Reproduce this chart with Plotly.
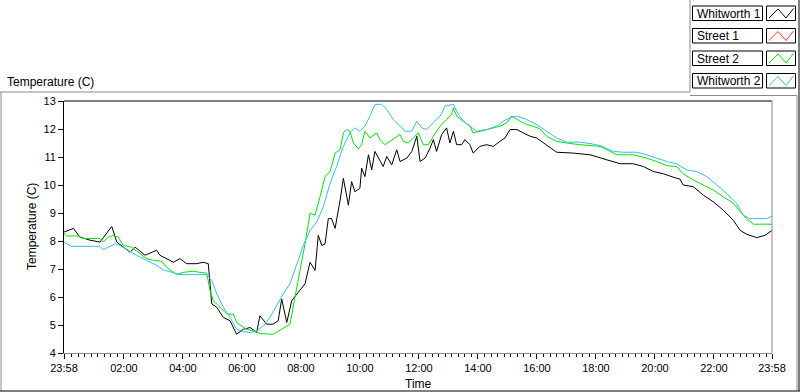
import pandas as pd
import plotly.graph_objects as go

# ---------------- data (hours elapsed since 23:58, temperature in C) ----------------
series_names = ["Whitworth 1", "Street 1", "Street 2", "Whitworth 2"]
series_colors = ["#000000", "#ff3030", "#00e800", "#3cb8ff"]

w1_hours = [0, 0.32, 0.54, 0.88, 1.22, 1.45, 1.62, 1.79, 2.01, 2.24, 2.41, 2.75, 3.14, 3.25, 3.71, 3.93,
            4.16, 4.5, 4.72, 4.89, 5.01, 5.18, 5.4, 5.63, 5.85, 6.08, 6.31, 6.53, 6.64, 6.87, 7.09, 7.26,
            7.38, 7.55, 7.72, 7.89, 8.0, 8.17, 8.34, 8.51, 8.62, 8.74, 8.85, 8.96, 9.07, 9.19, 9.36, 9.47,
            9.64, 9.75, 9.86, 10.03, 10.09, 10.2, 10.32, 10.43, 10.54, 10.71, 10.82, 10.94, 11.11, 11.28,
            11.39, 11.62, 11.79, 11.96, 12.07, 12.24, 12.41, 12.52, 12.63, 12.8, 12.97, 13.08, 13.2, 13.31,
            13.48, 13.59, 13.76, 13.87, 14.1, 14.33, 14.55, 14.78, 14.95, 15.12, 15.35, 15.57, 15.8, 16.02,
            16.25, 16.47, 16.7, 17.26, 17.83, 18.4, 18.85, 19.3, 19.64, 19.98, 20.32, 20.65, 20.88, 20.99,
            21.33, 21.67, 22.01, 22.35, 22.69, 22.92, 23.14, 23.48, 23.76, 24.0]
w1_temp = [8.32, 8.45, 8.14, 8.03, 7.96, 8.27, 8.52, 7.96, 7.78, 7.6, 7.78, 7.49, 7.67, 7.49, 7.24, 7.37,
           7.19, 7.19, 7.24, 7.19, 5.75, 5.63, 5.27, 5.15, 4.67, 4.85, 4.91, 4.73, 5.33, 5.03, 5.03, 5.15,
           5.93, 5.09, 5.87, 6.11, 6.23, 6.47, 7.24, 6.95, 8.2, 7.84, 7.9, 8.8, 8.8, 8.45, 9.46, 10.24,
           9.28, 10.12, 9.76, 9.88, 10.6, 10.3, 11.08, 10.54, 11.2, 10.84, 10.66, 11.02, 10.72, 11.26,
           10.84, 10.96, 11.2, 11.74, 10.84, 10.96, 11.32, 11.62, 11.2, 11.8, 12.04, 11.5, 11.92, 11.44,
           11.44, 11.62, 11.44, 11.14, 11.38, 11.44, 11.38, 11.56, 11.68, 11.98, 11.98, 11.86, 11.74, 11.68,
           11.5, 11.32, 11.17, 11.14, 11.08, 10.9, 10.76, 10.76, 10.66, 10.48, 10.4, 10.28, 10.21, 10.0,
           9.94, 9.64, 9.4, 9.1, 8.74, 8.38, 8.24, 8.12, 8.2, 8.38]

s1_hours = []   # Street 1: no visible data
s1_temp = []

s2_hours = [0, 0.09, 0.48, 0.65, 1.22, 1.33, 1.5, 1.67, 1.84, 2.01, 2.29, 2.58, 2.8, 3.03, 3.31, 3.48,
            3.82, 4.04, 4.38, 4.61, 4.84, 4.95, 5.06, 5.29, 5.52, 5.74, 5.85, 6.02, 6.19, 6.42, 6.64, 7.09,
            7.38, 7.66, 7.83, 8.0, 8.17, 8.34, 8.51, 8.68, 8.85, 9.02, 9.19, 9.36, 9.47, 9.58, 9.69, 9.81,
            9.98, 10.09, 10.2, 10.37, 10.6, 10.71, 10.88, 11.05, 11.28, 11.39, 11.5, 11.67, 11.9, 12.01,
            12.18, 12.35, 12.52, 12.75, 12.97, 13.14, 13.2, 13.31, 13.54, 13.76, 13.87, 14.1, 14.33, 14.55,
            14.78, 15.01, 15.18, 15.46, 15.68, 15.91, 16.14, 16.36, 16.7, 17.04, 17.49, 18.17, 18.51, 18.74,
            19.3, 19.75, 20.09, 20.43, 20.77, 20.99, 21.33, 21.67, 22.01, 22.35, 22.69, 22.97, 23.14, 23.37,
            24.0]
s2_temp = [8.27, 8.18, 8.18, 8.09, 8.09, 7.96, 8.14, 8.2, 8.14, 7.84, 7.78, 7.55, 7.37, 7.31, 7.28, 7.06,
           6.8, 6.88, 6.92, 6.88, 6.85, 6.23, 5.87, 5.63, 5.39, 5.39, 5.09, 4.97, 4.85, 4.79, 4.69, 4.67,
           4.85, 5.03, 5.99, 6.9, 7.9, 8.99, 8.92, 9.58, 10.3, 10.48, 11.14, 11.26, 11.86, 11.98, 11.92, 11.5,
           11.29, 11.44, 11.92, 11.68, 11.86, 11.62, 11.44, 11.56, 11.74, 11.8, 11.56, 11.5, 11.74, 11.86,
           11.44, 11.44, 11.74, 12.1, 12.34, 12.52, 12.76, 12.46, 12.28, 12.1, 11.86, 11.92, 11.98, 12.04,
           12.1, 12.22, 12.46, 12.28, 12.16, 12.1, 12.0, 11.74, 11.56, 11.5, 11.44, 11.38, 11.2, 11.08,
           11.08, 10.96, 10.84, 10.69, 10.66, 10.4, 10.18, 10.0, 9.82, 9.58, 9.35, 8.99, 8.8, 8.6,
           8.6]

w2_hours = [0, 0.26, 1.22, 1.33, 1.5, 1.73, 1.9, 2.13, 2.46, 2.8, 3.14, 3.37, 3.71, 3.93, 4.84, 5.01,
            5.18, 5.4, 5.63, 5.85, 6.08, 6.31, 6.53, 6.76, 6.98, 7.21, 7.43, 7.66, 7.89, 8.11, 8.34, 8.57,
            8.79, 9.02, 9.24, 9.47, 9.69, 9.86, 10.03, 10.2, 10.37, 10.54, 10.77, 10.94, 11.16, 11.39, 11.56,
            11.79, 11.96, 12.13, 12.29, 12.52, 12.75, 12.92, 13.2, 13.37, 13.54, 13.76, 13.99, 14.33, 14.67,
            14.89, 15.12, 15.35, 15.68, 16.02, 16.36, 16.7, 17.04, 17.49, 17.83, 18.17, 18.62, 18.96, 19.41,
            19.75, 20.09, 20.43, 20.77, 21.11, 21.45, 21.79, 22.13, 22.46, 22.8, 23.03, 23.25, 23.82, 24.0]
w2_temp = [7.96, 7.81, 7.81, 7.69, 7.78, 7.9, 7.84, 7.69, 7.49, 7.31, 7.13, 6.97, 6.88, 6.8, 6.8, 6.59,
           6.11, 5.63, 5.27, 4.85, 4.76, 4.73, 4.79, 4.97, 5.27, 5.69, 6.11, 6.47, 7.15, 7.84, 8.38, 8.68,
           9.22, 10.06, 10.66, 11.38, 11.86, 12.04, 11.92, 12.1, 12.46, 12.88, 12.88, 12.7, 12.34, 12.1, 11.92,
           11.92, 12.28, 12.04, 11.98, 12.22, 12.46, 12.82, 12.88, 12.52, 12.28, 12.1, 11.92, 11.98, 12.1,
           12.28, 12.4, 12.46, 12.34, 12.16, 11.92, 11.68, 11.53, 11.53, 11.48, 11.41, 11.2, 11.17, 11.17,
           11.08, 10.96, 10.84, 10.76, 10.54, 10.48, 10.3, 10.0, 9.7, 9.35, 8.92, 8.8, 8.8, 8.89]

x_tick_labels = ["23:58", "02:00", "04:00", "06:00", "08:00", "10:00", "12:00",
                 "14:00", "16:00", "18:00", "20:00", "22:00", "23:58"]
y_ticks = [4, 5, 6, 7, 8, 9, 10, 11, 12, 13]

assert len(w1_hours) == len(w1_temp)
assert len(s2_hours) == len(s2_temp)
assert len(w2_hours) == len(w2_temp)

# ---------------- figure ----------------
start = pd.Timestamp("2024-01-01 23:58")
end = start + pd.Timedelta(hours=24)
day2 = pd.Timestamp("2024-01-02 00:00")


def to_time(hours):
    return [start + pd.Timedelta(hours=h) for h in hours]


tickvals = [start] + [day2 + pd.Timedelta(hours=2 * k) for k in range(1, 12)] + [end]

fig = go.Figure()
all_series = [(w1_hours, w1_temp), (s1_hours, s1_temp), (s2_hours, s2_temp), (w2_hours, w2_temp)]
for (hrs, vals), name, col in zip(all_series, series_names, series_colors):
    fig.add_trace(go.Scatter(x=to_time(hrs), y=vals, mode="lines", name=name,
                             line=dict(color=col, width=1), showlegend=False))

W, H = 800, 392
L, R, T, B = 64, 28, 101, 39
PW, PH = W - L - R, H - T - B


def px(x):
    return (x - L) / PW


def py(y):
    return (H - B - y) / PH


FONT = "Liberation Sans, Arial, sans-serif"
shapes = []
annotations = []


def line(x0, y0, x1, y1, color, width=1):
    shapes.append(dict(type="line", xref="paper", yref="paper", x0=px(x0), y0=py(y0),
                       x1=px(x1), y1=py(y1), line=dict(color=color, width=width)))


# plot frame: top/left black, right/bottom grey
line(L, T, W - R, T, "#000000")
line(W - R, T, W - R, H - B, "#8a8a8a")

# outer control frame
line(0, 92, 690, 92, "#8a8a8a")
line(690, 0, 690, 92, "#8a8a8a")
line(690, 95.5, 797, 95.5, "#8a8a8a")
line(797, 95.5, 797, 390, "#8a8a8a")
line(1, 92, 1, 391, "#8a8a8a")
line(0, 391, 800, 391, "#000000")
line(799, 0, 799, 391, "#000000")

# custom legend (text box + icon box)
row_tops = [6, 28.5, 51, 73.5]
row_h = 14.5
for top, name, col in zip(row_tops, series_names, series_colors):
    shapes.append(dict(type="rect", xref="paper", yref="paper", x0=px(692.5), x1=px(762.5),
                       y0=py(top + row_h), y1=py(top), line=dict(color="#000000", width=1),
                       fillcolor="white"))
    shapes.append(dict(type="rect", xref="paper", yref="paper", x0=px(766.5), x1=px(795.5),
                       y0=py(top + row_h), y1=py(top), line=dict(color="#000000", width=1),
                       fillcolor="white"))
    pts = [(769, top + 12), (778, top + 3), (786, top + 12), (793.5, top + 2.5)]
    path = "M " + " L ".join(f"{px(a):.5f},{py(b):.5f}" for a, b in pts)
    shapes.append(dict(type="path", xref="paper", yref="paper", path=path,
                       line=dict(color=col, width=1)))
    annotations.append(dict(xref="paper", yref="paper", x=px(695), y=py(top + row_h / 2 + 0.5),
                            xanchor="left", yanchor="middle", text=name, showarrow=False,
                            font=dict(family=FONT, size=12, color="#000000")))

# titles
annotations.append(dict(xref="paper", yref="paper", x=px(5), y=py(82), xanchor="left",
                        yanchor="middle", text="Temperature (C)", showarrow=False,
                        font=dict(family=FONT, size=12, color="#000000")))
annotations.append(dict(xref="paper", yref="paper", x=px(32), y=py((T + H - B) / 2),
                        xanchor="center", yanchor="middle", text="Temperature (C)", textangle=-90,
                        showarrow=False, font=dict(family=FONT, size=12, color="#000000")))
annotations.append(dict(xref="paper", yref="paper", x=px((L + W - R) / 2), y=py(384),
                        xanchor="center", yanchor="middle", text="Time", showarrow=False,
                        font=dict(family=FONT, size=12, color="#000000")))

fig.update_layout(
    width=W, height=H,
    margin=dict(l=L, r=R, t=T, b=B, pad=0),
    paper_bgcolor="white", plot_bgcolor="white",
    showlegend=False,
    shapes=shapes, annotations=annotations,
    xaxis=dict(type="date", range=[start, end], tickvals=tickvals, ticktext=x_tick_labels,
               showgrid=False, zeroline=False, showline=True, linecolor="#8a8a8a", linewidth=1,
               ticks="outside", ticklen=5, tickcolor="#000000", tickwidth=1,
               tickfont=dict(family=FONT, size=11, color="#000000"),
               minor=dict(ticks="outside", ticklen=3, tickcolor="#000000", tickwidth=1,
                          tick0=day2 + pd.Timedelta(hours=2), dtick=800000, showgrid=False)),
    yaxis=dict(range=[4, 13], tickvals=y_ticks, ticktext=[str(v) for v in y_ticks],
               showgrid=False, zeroline=False, showline=True, linecolor="#000000", linewidth=1,
               ticks="outside", ticklen=5, tickcolor="#000000", tickwidth=1,
               tickfont=dict(family=FONT, size=11, color="#000000")),
)

fig.write_html("out.html", config={"displayModeBar": False},
               post_script="document.body.style.margin='0';document.body.style.overflow='hidden';")
